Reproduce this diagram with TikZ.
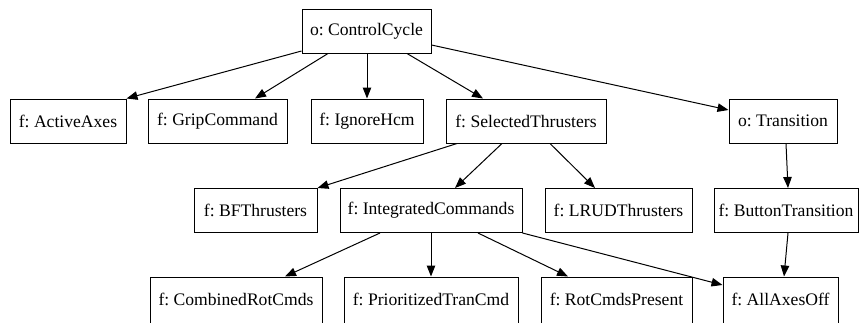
\documentclass[tikz,border=0pt]{standalone}
\usepackage{fontspec}
\setmainfont{Liberation Serif}
\frenchspacing
\usetikzlibrary{arrows.meta}
\tikzset{
  lbl/.style={font=\fontsize{17.6}{21}\selectfont},
  box/.style={draw=black, line width=1pt, rectangle, inner sep=0pt,
    minimum height=44pt, lbl, anchor=center},
  lowbox/.style={draw=black, line width=1pt, rectangle, inner sep=0pt,
    minimum height=48pt, anchor=center},
  arr/.style={draw=black, line width=1pt,
    -{Triangle[length=11pt,width=8.5pt]}}
}
\begin{document}
\begin{tikzpicture}[x=1pt,y=-1pt]
\useasboundingbox (0,0) rectangle (860,322);
\clip (0,0) rectangle (860,322);
% top level
\node[box, minimum width=129pt] (cc) at (366.5,31) {o: ControlCycle};
% second row
\node[box, minimum width=116pt] (aa) at (68,121) {f: ActiveAxes};
\node[box, minimum width=139pt] (gc) at (217.5,121) {f: GripCommand};
\node[box, minimum width=112pt] (ih) at (367,121) {f: IgnoreHcm};
\node[box, minimum width=160pt] (st) at (526,121) {f: SelectedThrusters};
\node[box, minimum width=108pt] (tr) at (783,121) {o: Transition};
% third row
\node[box, minimum width=123pt] (bf) at (255.5,210.5) {f: BFThrusters};
\node[box, minimum width=182pt] (ic) at (431,210.5) {f: IntegratedCommands};
\node[box, minimum width=147pt] (lr) at (618.5,210.5) {f: LRUDThrusters};
\node[box, minimum width=144pt] (bt) at (786,210.5) {f: ButtonTransition};
% bottom row: boxes run past the lower edge
\node[lowbox, minimum width=172pt] (cr) at (236,301) {};
\node[lowbox, minimum width=174pt] (pt) at (431,301) {};
\node[lowbox, minimum width=151pt] (rp) at (616.5,301) {};
\node[lowbox, minimum width=115pt] (ao) at (780.5,301) {};
\node[lbl] (crt) at (236,299) {f: CombinedRotCmds};
\node[lbl] (ptt) at (431,299) {f: PrioritizedTranCmd};
\node[lbl] (rpt) at (616.5,299) {f: RotCmdsPresent};
\node[lbl] (aot) at (780.5,299) {f: AllAxesOff};
% connectors
\draw[arr] ([yshift=-20pt]cc.west) -- (aa.north east);
\draw[arr] ([xshift=-38.5pt]cc.south) -- ([xshift=37.5pt]gc.north);
\draw[arr] ([xshift=0.5pt]cc.south) -- (ih.north);
\draw[arr] ([xshift=40.5pt]cc.south) -- ([xshift=-43pt]st.north);
\draw[arr] ([yshift=-14pt]cc.east) -- ([yshift=11pt]tr.west);
\draw[arr] ([xshift=-69pt]st.south) -- (bf.north east);
\draw[arr] ([xshift=-24pt]st.south) -- ([xshift=24pt]ic.north);
\draw[arr] ([xshift=24pt]st.south) -- ([xshift=-23.5pt]lr.north);
\draw[arr] ([xshift=3pt]tr.south) -- ([xshift=2pt]bt.north);
\draw[arr] ([xshift=-51pt]ic.south) -- ([xshift=49pt]cr.north);
\draw[arr] (ic.south) -- (pt.north);
\draw[arr] ([xshift=47pt]ic.south) -- ([xshift=-48.5pt]rp.north);
\draw[arr] (ic.south east) -- ([yshift=16pt]ao.west);
\draw[arr] ([xshift=2pt]bt.south) -- ([xshift=3.5pt]ao.north);
\end{tikzpicture}
\end{document}
